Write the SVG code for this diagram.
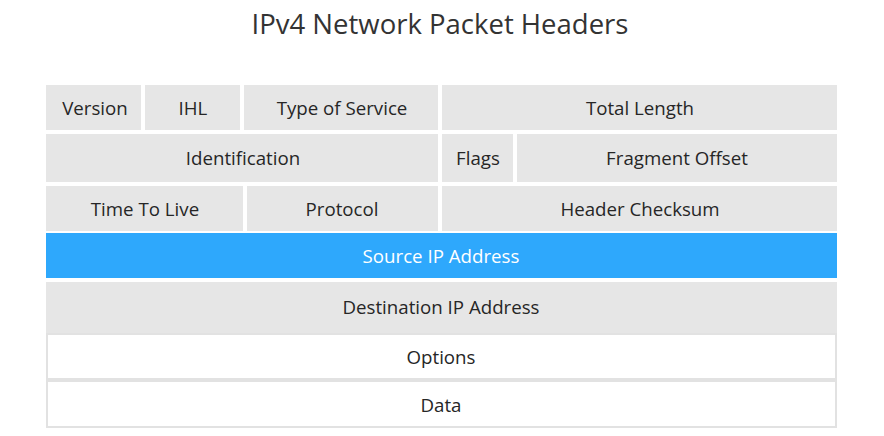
<svg xmlns="http://www.w3.org/2000/svg" width="884" height="436" viewBox="0 0 884 436">
<style>
.g{fill:#e6e6e6}
.b{fill:#2ea8fc}
.w{fill:#ffffff;stroke:#e2e2e2;stroke-width:2}
text{font-family:"Open Sans","Noto Sans","DejaVu Sans",sans-serif;font-size:18.7px;fill:#262626;text-anchor:middle}
.wt{fill:#ffffff}
.title{font-size:27.5px;fill:#333333}
</style>
<rect width="884" height="436" fill="#ffffff"/>
<text class="title" x="440" y="34">IPv4 Network Packet Headers</text>
<g id="version"><rect class="g" x="46" y="85" width="95" height="45"/><text x="95" y="115">Version</text></g>
<g id="ihl"><rect class="g" x="145" y="85" width="95" height="45"/><text x="193" y="115">IHL</text></g>
<g id="tos"><rect class="g" x="244" y="85" width="194" height="45"/><text x="342" y="115">Type of Service</text></g>
<g id="total-length"><rect class="g" x="442" y="85" width="395" height="45"/><text x="640" y="115">Total Length</text></g>
<g id="identification"><rect class="g" x="46" y="134" width="392" height="48"/><text x="243" y="165">Identification</text></g>
<g id="flags"><rect class="g" x="442" y="134" width="71" height="48"/><text x="478" y="165">Flags</text></g>
<g id="fragment-offset"><rect class="g" x="517" y="134" width="320" height="48"/><text x="677" y="165">Fragment Offset</text></g>
<g id="ttl"><rect class="g" x="46" y="186" width="197" height="45"/><text x="145" y="216">Time To Live</text></g>
<g id="protocol"><rect class="g" x="247" y="186" width="191" height="45"/><text x="342" y="216">Protocol</text></g>
<g id="header-checksum"><rect class="g" x="442" y="186" width="395" height="45"/><text x="640" y="216">Header Checksum</text></g>
<g id="source-ip"><rect class="b" x="46" y="233" width="791" height="45"/><text class="wt" x="441" y="263">Source IP Address</text></g>
<g id="destination-ip"><rect class="g" x="46" y="282" width="791" height="51"/><text x="441" y="314">Destination IP Address</text></g>
<g id="options"><rect class="w" x="47" y="334" width="789" height="45"/><text x="441" y="364">Options</text></g>
<g id="data"><rect class="w" x="47" y="381" width="789" height="46"/><text x="441" y="412">Data</text></g>
<g id="connectors"></g>
</svg>
